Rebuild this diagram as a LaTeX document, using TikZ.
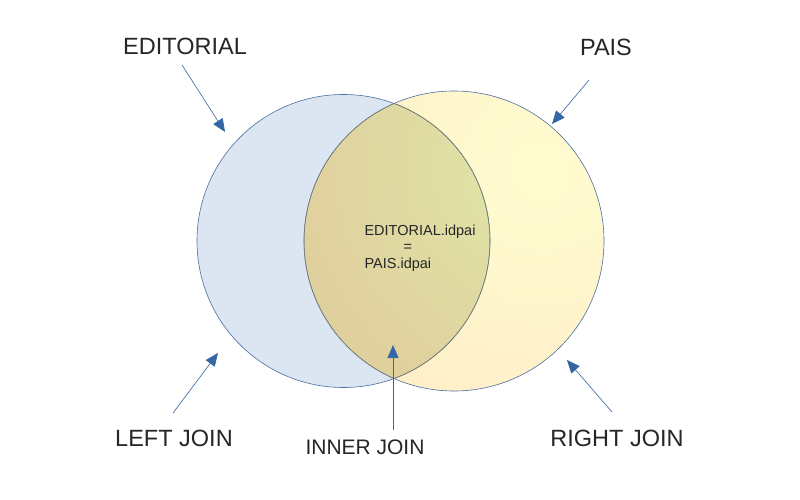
\documentclass[tikz,border=0pt]{standalone}
\usepackage{fontspec}
\setmainfont{Liberation Sans}
\usepackage{xcolor}
\usetikzlibrary{arrows.meta, positioning, calc}

\definecolor{leftfill}{RGB}{220,230,242}
\definecolor{leftline}{RGB}{74,111,165}
\definecolor{rightin}{RGB}{255,253,208}
\definecolor{rightout}{RGB}{255,238,200}
\definecolor{midin}{RGB}{224,232,168}
\definecolor{midout}{RGB}{224,208,158}
\definecolor{midline}{RGB}{125,128,100}
\definecolor{arrowblue}{RGB}{52,101,164}

\begin{document}
\begin{tikzpicture}[x=1pt, y=-1pt,
    joinarrow/.style={-{Triangle[length=13pt, width=11pt]}, line width=0.6pt, arrowblue},
    setlabel/.style={font=\fontsize{23.5}{28}\selectfont, text=black!85}]
  \useasboundingbox (0,0) rectangle (800,500);
  \fill[white] (0,0) rectangle (800,500);
  % the two sets
  \fill[leftfill] (343.5,241) circle (146.5);
  \begin{scope}
    \clip (454,241) circle (150);
    \fill[rightout] (454,241) circle (150);
    \shade[inner color=rightin, outer color=rightout] (540,170) circle (265);
  \end{scope}
  \begin{scope}
    \clip (343.5,241) circle (146.5);
    \clip (454,241) circle (150);
    \fill[midout] (454,241) circle (150);
    \shade[inner color=midin, outer color=midout] (540,170) circle (240);
  \end{scope}
  \draw[leftline, line width=0.6pt] (343.5,241) circle (146.5);
  \draw[leftline, line width=0.6pt] (454,241) circle (150);
  \begin{scope}
    \clip (343.5,241) circle (146.5);
    \draw[midline, line width=0.5pt] (454,241) circle (150);
  \end{scope}
  \begin{scope}
    \clip (454,241) circle (150);
    \draw[midline, line width=0.5pt] (343.5,241) circle (146.5);
  \end{scope}
  % labels
  \node[setlabel] (editorial) at (185,46) {EDITORIAL};
  \node[setlabel] (pais) at (606,47) {PAIS};
  \node[setlabel] (leftjoin) at (174,438) {LEFT JOIN};
  \node[setlabel, font=\fontsize{21}{25}\selectfont] (innerjoin) at (365,447) {INNER JOIN};
  \node[setlabel] (rightjoin) at (617,438) {RIGHT JOIN};
  \node[font=\fontsize{14.5}{16.5}\selectfont, text=black!85, align=left, anchor=north west]
    (cond) at (361,221) {EDITORIAL.idpai\\\hspace*{39pt}=\\PAIS.idpai};
  % arrows
  \coordinate (editorial-tail) at (182,65);
  \coordinate (editorial-tip) at (225,132);
  \coordinate (pais-tail) at (589,80);
  \coordinate (pais-tip) at (552,124);
  \coordinate (leftjoin-tail) at (173,413);
  \coordinate (leftjoin-tip) at (218,353);
  \coordinate (innerjoin-tail) at (393,430);
  \coordinate (innerjoin-tip) at (393,345);
  \coordinate (rightjoin-tail) at (612,412);
  \coordinate (rightjoin-tip) at (567,360);
  \draw[joinarrow] (editorial-tail) -- (editorial-tip);
  \draw[joinarrow] (pais-tail) -- (pais-tip);
  \draw[joinarrow] (leftjoin-tail) -- (leftjoin-tip);
  \draw[joinarrow] (innerjoin-tail) -- (innerjoin-tip);
  \draw[joinarrow] (rightjoin-tail) -- (rightjoin-tip);
\end{tikzpicture}
\end{document}
